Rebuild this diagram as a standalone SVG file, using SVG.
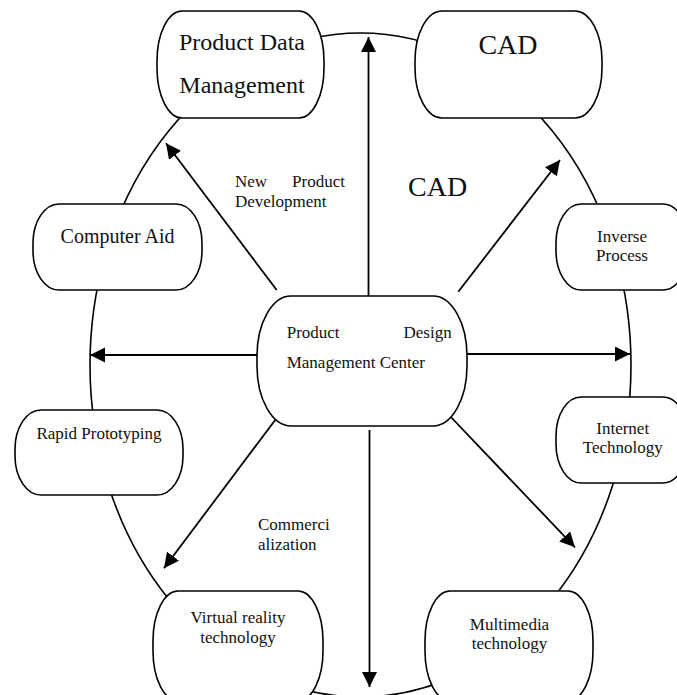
<svg xmlns="http://www.w3.org/2000/svg" width="677" height="695" viewBox="0 0 677 695">
  <defs>
    <marker id="arrow" markerUnits="userSpaceOnUse" markerWidth="16" markerHeight="16" refX="15" refY="7.5" orient="auto">
      <path d="M0,0 L15,7.5 L0,15 Z" fill="#000"/>
    </marker>
    <style>
      .node { fill: #fff; stroke: #000; stroke-width: 1.6; }
      .ring { fill: none; stroke: #000; stroke-width: 1.6; }
      .link { stroke: #000; stroke-width: 1.8; fill: none; marker-end: url(#arrow); }
      text { font-family: "Liberation Serif", "Times New Roman", serif; fill: #111; }
      .t17 { font-size: 17px; }
      .mid { text-anchor: middle; }
    </style>
  </defs>
  <rect width="677" height="695" fill="#fff"/>

  <!-- outer ring linking the satellite nodes -->
  <ellipse class="ring" cx="360.5" cy="365" rx="270.5" ry="332"/>

  <!-- connectors radiating from the centre node -->
  <g id="connectors">
    <line class="link" x1="368.5" y1="296" x2="368.5" y2="37"/>
    <line class="link" x1="369.5" y1="430" x2="369.5" y2="687"/>
    <line class="link" x1="257" y1="355" x2="90" y2="355"/>
    <line class="link" x1="467" y1="354" x2="630" y2="354"/>
    <line class="link" x1="276.7" y1="290" x2="166" y2="143.3"/>
    <line class="link" x1="458.3" y1="291.7" x2="560" y2="160"/>
    <line class="link" x1="276.7" y1="418" x2="164" y2="568.3"/>
    <line class="link" x1="448" y1="414" x2="575" y2="547.3"/>
  </g>

  <!-- free labels -->
  <g id="label-npd" class="t17">
    <text x="235" y="187">New</text>
    <text x="345" y="187" text-anchor="end">Product</text>
    <text x="235" y="207">Development</text>
  </g>
  <text id="label-cad" x="408" y="196" font-size="28">CAD</text>
  <g id="label-commercialization" class="t17">
    <text x="258" y="530">Commerci</text>
    <text x="258" y="550">alization</text>
  </g>

  <!-- nodes -->
  <g id="node-pdm">
    <rect class="node" x="157" y="11" width="167" height="107" rx="25" ry="50"/>
    <text class="mid" x="242" y="50" font-size="24">Product Data</text>
    <text class="mid" x="242" y="93" font-size="24">Management</text>
  </g>
  <g id="node-cad">
    <rect class="node" x="415" y="11" width="187" height="107" rx="27" ry="50"/>
    <text class="mid" x="508" y="54" font-size="28">CAD</text>
  </g>
  <g id="node-computer-aid">
    <rect class="node" x="33" y="204" width="169" height="86" rx="26" ry="39"/>
    <text class="mid" x="117.5" y="243" font-size="20">Computer Aid</text>
  </g>
  <g id="node-inverse">
    <rect class="node" x="556" y="204" width="132" height="86" rx="25" ry="39"/>
    <text class="mid t17" x="622" y="242">Inverse</text>
    <text class="mid t17" x="622" y="261">Process</text>
  </g>
  <g id="node-center">
    <rect class="node" x="257" y="296" width="210" height="130" rx="34" ry="60"/>
    <text class="t17" x="286.7" y="338">Product</text>
    <text class="t17" x="451.7" y="338" text-anchor="end">Design</text>
    <text class="t17" x="286.7" y="368">Management Center</text>
  </g>
  <g id="node-internet">
    <rect class="node" x="556" y="397" width="132" height="86" rx="25" ry="39"/>
    <text class="mid t17" x="622.7" y="434">Internet</text>
    <text class="mid t17" x="622.7" y="453">Technology</text>
  </g>
  <g id="node-rapid">
    <rect class="node" x="15" y="410" width="168" height="85" rx="26" ry="39"/>
    <text class="mid t17" x="99" y="439">Rapid Prototyping</text>
  </g>
  <g id="node-vr">
    <rect class="node" x="153" y="591" width="170" height="110" rx="25" ry="50"/>
    <text class="mid t17" x="238" y="623">Virtual reality</text>
    <text class="mid t17" x="238" y="643">technology</text>
  </g>
  <g id="node-multimedia">
    <rect class="node" x="425" y="591" width="168" height="110" rx="25" ry="50"/>
    <text class="mid t17" x="509.5" y="630">Multimedia</text>
    <text class="mid t17" x="509.5" y="649">technology</text>
  </g>
</svg>
